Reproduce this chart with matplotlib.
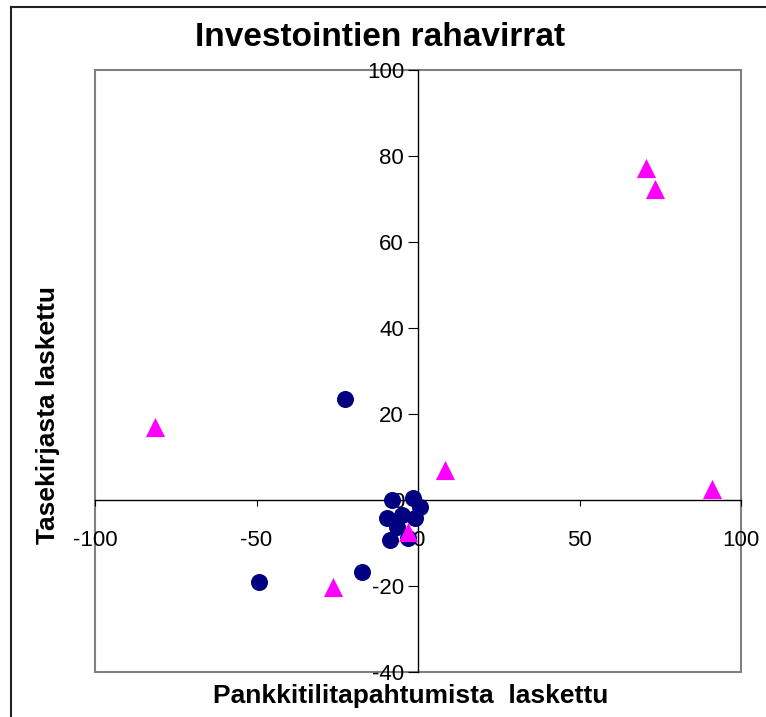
import matplotlib
matplotlib.use("Agg")
import matplotlib.pyplot as plt
from matplotlib.patches import Rectangle
from matplotlib.lines import Line2D

plt.rcParams['font.family'] = ['Liberation Sans', 'DejaVu Sans']

circle_x = [-22.6, -49.2, -17.3, -8.1, -1.5, 0.6, -9.7, -5.0, -8.7, -3.0, -6.6, -1.0]
circle_y = [23.5, -19.1, -16.7, 0.0, 0.5, -1.6, -4.2, -3.5, -9.3, -8.8, -6.2, -4.2]
tri_x = [-81.4, -26.3, 8.4, 70.6, 73.4, 91.0, -3.1]
tri_y = [17.0, -20.2, 7.0, 77.2, 72.3, 2.6, -7.4]
x_ticks = [-100, -50, 0, 50, 100]
y_ticks = [-40, -20, 0, 20, 40, 60, 80, 100]

fig = plt.figure(figsize=(7.66, 7.17), dpi=100)
ax = fig.add_axes([95/766, 1-672/717, (741-95)/766, (672-70)/717])
ax.set_xlim(-100, 100)
ax.set_ylim(-40, 100)

ax.scatter(circle_x, circle_y, s=150, marker='o', color='#000080', zorder=3, linewidths=0)
ax.scatter(tri_x, tri_y, s=190, marker='^', color='#FF00FF', zorder=4, linewidths=0)

for s in ['top', 'right']:
    ax.spines[s].set_visible(False)
ax.spines['left'].set_position(('data', 0))
ax.spines['bottom'].set_position(('data', 0))
ax.spines['left'].set_color('black')
ax.spines['bottom'].set_color('black')
ax.spines['left'].set_linewidth(1.0)
ax.spines['bottom'].set_linewidth(1.0)
ax.add_patch(Rectangle((0, 0), 1, 1, transform=ax.transAxes, fill=False,
                       edgecolor='#808080', linewidth=1.5, clip_on=False, zorder=1))

ax.set_xticks(x_ticks)
ax.set_yticks(y_ticks)
ax.set_xticklabels([str(v) for v in x_ticks])
ax.set_yticklabels([str(v) for v in y_ticks])
ax.tick_params(axis='x', direction='out', length=4, pad=17.5, labelsize=16)
ax.tick_params(axis='y', direction='out', length=7, pad=3, labelsize=16)

fig.text(380/766, 1-38/717, 'Investointien rahavirrat', ha='center', va='center',
         fontsize=24, fontweight='bold')
fig.text(411/766, 1-696/717, 'Pankkitilitapahtumista  laskettu', ha='center', va='center',
         fontsize=19, fontweight='bold')
fig.text(48/766, 1-415/717, 'Tasekirjasta laskettu', ha='center', va='center',
         fontsize=19, fontweight='bold', rotation=90)

fig.add_artist(Line2D([11/766, 1], [1-7/717, 1-7/717], transform=fig.transFigure,
                      color='#222222', linewidth=1.5))
fig.add_artist(Line2D([11/766, 11/766], [0, 1-7/717], transform=fig.transFigure,
                      color='#222222', linewidth=1.5))

fig.savefig('out.png', dpi=100)
